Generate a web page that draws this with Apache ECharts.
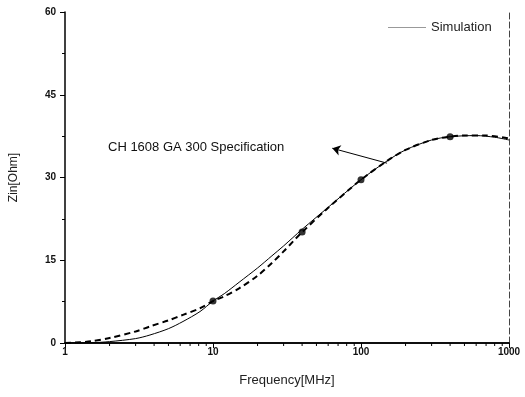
<!DOCTYPE html>
<html>
<head>
<meta charset="utf-8">
<script src="https://cdn.jsdelivr.net/npm/echarts@6/dist/echarts.min.js"></script>
<style>
  html, body { margin: 0; padding: 0; background: #fff; }
  #chart { width: 525px; height: 397px; }
</style>
</head>
<body>
<div id="chart"></div>
<script>
// simulation curve (thin solid)
const simFreq = [1, 1.5, 2, 3, 3.75, 5, 6.27, 8.17, 10, 12, 15, 20, 25, 30, 40, 60, 100, 150, 200, 300, 400, 600, 800, 1000];
const simZin  = [0, 0.05, 0.25, 0.8, 1.45, 2.6, 3.9, 5.7, 7.6, 9.0, 11.0, 13.6, 15.8, 17.6, 20.6, 24.6, 29.6, 33.0, 35.0, 36.8, 37.4, 37.6, 37.3, 36.8];

// specification curve (thick dashed)
const specFreq = [1, 1.5, 2, 3, 3.75, 5, 6.27, 8.17, 10, 12, 15, 20, 25, 30, 35, 40, 60, 100, 150, 200, 300, 400, 500, 700, 1000];
const specZin  = [0, 0.3, 0.9, 2.1, 3.0, 4.1, 5.1, 6.3, 7.6, 8.5, 9.9, 12.2, 14.5, 16.6, 18.5, 20.1, 24.5, 29.6, 33.0, 35.0, 36.8, 37.4, 37.6, 37.6, 37.1];

// specification points (dots)
const pointFreq = [10, 40, 100, 400];
const pointZin  = [7.6, 20.1, 29.6, 37.4];

const decades = [1, 10, 100];

const minorTicks = [];
decades.forEach(d => {
  for (let k = 2; k <= 9; k++) minorTicks.push([d * k, 0]);
});

const chart = echarts.init(document.getElementById('chart'));

const tickFont = { fontFamily: 'Liberation Sans', fontWeight: 'bold', fontSize: 10, color: '#111' };

chart.setOption({
  animation: false,
  backgroundColor: '#fff',
  grid: { left: 65, right: 16, top: 12, bottom: 54 },
  legend: {
    data: [{ name: 'Simulation', icon: 'rect' }],
    left: 383,
    top: 16,
    itemWidth: 38,
    itemHeight: 1,
    itemStyle: { color: '#999' },
    textStyle: { fontFamily: 'Liberation Sans', fontSize: 13, color: '#222' }
  },
  xAxis: [
    {
      type: 'log',
      logBase: 10,
      min: 1,
      max: 1000,
      name: 'Frequency[MHz]',
      nameLocation: 'middle',
      nameGap: 31,
      nameTextStyle: { fontFamily: 'Liberation Sans', fontSize: 13, color: '#222' },
      axisLine: { lineStyle: { color: '#000', width: 1.5 } },
      axisTick: { length: 5, lineStyle: { color: '#000' } },
      axisLabel: Object.assign({ margin: 4, formatter: v => String(v) }, tickFont),
      splitLine: { show: false }
    },
    {
      type: 'log',
      position: 'top',
      min: 1,
      max: 1000,
      axisLine: { show: true, lineStyle: { color: '#000', width: 1.5 } },
      axisTick: { show: false },
      axisLabel: { show: false },
      splitLine: { show: false }
    }
  ],
  yAxis: [
    {
      type: 'value',
      min: 0,
      max: 60,
      interval: 15,
      name: 'Zin[Ohm]',
      nameLocation: 'middle',
      nameGap: 45,
      nameTextStyle: { fontFamily: 'Liberation Sans', fontSize: 12, color: '#222' },
      axisLine: { show: true, lineStyle: { color: '#000', width: 1.5 } },
      axisTick: { length: 5, lineStyle: { color: '#000' } },
      minorTick: { show: true, splitNumber: 2, length: 3, lineStyle: { color: '#000' } },
      axisLabel: Object.assign({ margin: 9 }, tickFont),
      splitLine: { show: false }
    },
    {
      type: 'value',
      position: 'right',
      min: 0,
      max: 60,
      axisLine: { show: true, lineStyle: { color: '#444', width: 1, type: [6, 3] } },
      axisTick: { show: false },
      axisLabel: { show: false },
      splitLine: { show: false }
    }
  ],
  series: [
    {
      name: 'Simulation',
      type: 'line',
      data: simFreq.map((f, i) => [f, simZin[i]]),
      smooth: 0.3,
      symbol: 'none',
      lineStyle: { color: '#000', width: 1 },
      z: 3
    },
    {
      name: 'Specification',
      type: 'line',
      data: specFreq.map((f, i) => [f, specZin[i]]),
      smooth: 0.3,
      symbol: 'none',
      lineStyle: { color: '#000', width: 2, type: [6, 4] },
      markLine: {
        silent: true,
        symbol: ['none', 'arrow'],
        symbolSize: [8, 8],
        lineStyle: { color: '#000', width: 1, type: 'solid' },
        label: { show: false },
        data: [[{ coord: [150, 32.6] }, { coord: [64, 35.3] }]]
      },
      z: 4
    },
    {
      name: 'Points',
      type: 'scatter',
      data: pointFreq.map((f, i) => [f, pointZin[i]]),
      symbol: 'circle',
      symbolSize: 7,
      itemStyle: { color: '#000' },
      z: 5
    },
    {
      name: 'minor',
      type: 'custom',
      clip: false,
      silent: true,
      data: minorTicks,
      renderItem: (params, api) => {
        const p = api.coord([api.value(0), 0]);
        return {
          type: 'line',
          shape: { x1: p[0], y1: p[1], x2: p[0], y2: p[1] + 3 },
          style: { stroke: '#000', lineWidth: 1 }
        };
      },
      z: 6
    }
  ],
  graphic: [
    {
      type: 'text',
      left: 108,
      top: 141,
      style: {
        text: 'CH 1608 GA 300 Specification',
        font: '13px "Liberation Sans"',
        fill: '#111'
      }
    }
  ]
});
</script>
</body>
</html>
